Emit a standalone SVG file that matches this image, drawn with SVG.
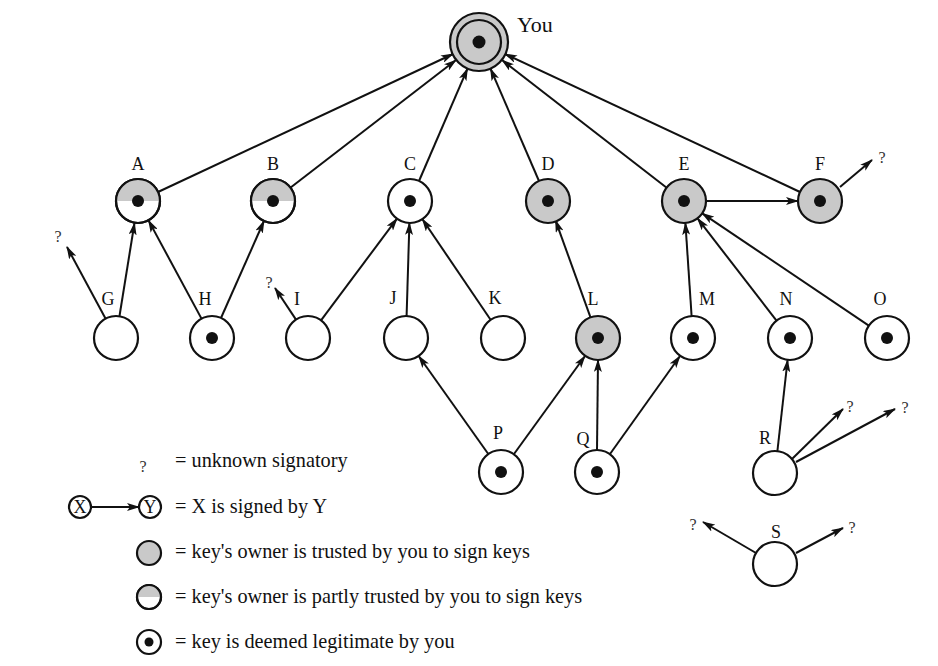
<svg xmlns="http://www.w3.org/2000/svg" width="938" height="666" viewBox="0 0 938 666">
<style>
.n{fill:#fff;stroke:#111;stroke-width:2.2}
.t{fill:#c9c9c9;stroke:#111;stroke-width:2.2}
.d{fill:#111}
.e{stroke:#111;stroke-width:2;fill:none;marker-end:url(#ah)}
.lb{font-family:"Liberation Serif","Times New Roman",serif;font-size:18px;fill:#111;text-anchor:middle}
.q{font-family:"Liberation Serif","Times New Roman",serif;font-size:16px;fill:#333;text-anchor:middle}
.lg{font-family:"Liberation Serif","Times New Roman",serif;font-size:20.3px;fill:#111}
</style>
<defs>
<marker id="ah" viewBox="0 0 13 8" refX="12" refY="4" markerWidth="13" markerHeight="8" markerUnits="userSpaceOnUse" orient="auto">
<path d="M0,0 L13,4 L0,8 L3,4 z" fill="#111"/>
</marker>
<clipPath id="top"><rect x="-30" y="-30" width="60" height="30"/></clipPath>
</defs>
<rect width="938" height="666" fill="#fff"/>
<g id="connectors">
<line class="e" x1="158" y1="192" x2="453" y2="54"/>
<line class="e" x1="290" y1="188" x2="456" y2="60"/>
<line class="e" x1="419" y1="181" x2="467.5" y2="68.6"/>
<line class="e" x1="539" y1="181" x2="490.5" y2="68.6"/>
<line class="e" x1="667" y1="188" x2="502" y2="60"/>
<line class="e" x1="800" y1="192" x2="505" y2="54"/>
<line class="e" x1="706" y1="201" x2="798" y2="201"/>
<line class="e" x1="840" y1="187" x2="872" y2="160"/>
<line class="e" x1="119.5" y1="316" x2="134.5" y2="223"/>
<line class="e" x1="105.5" y1="318.5" x2="67" y2="247"/>
<line class="e" x1="201.5" y1="318.6" x2="148.5" y2="220.4"/>
<line class="e" x1="221" y1="318" x2="264" y2="221"/>
<line class="e" x1="321" y1="320.4" x2="397" y2="218.6"/>
<line class="e" x1="296" y1="319.6" x2="275" y2="288"/>
<line class="e" x1="406.6" y1="316" x2="409.4" y2="223"/>
<line class="e" x1="490.6" y1="319.8" x2="422.4" y2="219.2"/>
<line class="e" x1="590.5" y1="317.3" x2="555.5" y2="220.3"/>
<line class="e" x1="691.6" y1="316" x2="685.4" y2="223"/>
<line class="e" x1="776.5" y1="320.6" x2="697.5" y2="218.4"/>
<line class="e" x1="868.8" y1="325.7" x2="702.2" y2="213.3"/>
<line class="e" x1="488.3" y1="454" x2="418.7" y2="356"/>
<line class="e" x1="514" y1="454" x2="585" y2="356"/>
<line class="e" x1="597" y1="450" x2="598" y2="360"/>
<line class="e" x1="610" y1="454" x2="680" y2="356"/>
<line class="e" x1="777.4" y1="451" x2="787.6" y2="360"/>
<line class="e" x1="792" y1="459" x2="843" y2="409"/>
<line class="e" x1="796" y1="462" x2="895" y2="409"/>
<line class="e" x1="756" y1="553" x2="703" y2="522"/>
<line class="e" x1="796" y1="553" x2="843" y2="528"/>
<line class="e" x1="91" y1="507" x2="139" y2="507"/>
</g>
<g id="node-you">
<circle cx="479" cy="42" r="29" class="t"/>
<circle cx="479" cy="42" r="22" class="t"/>
<circle cx="479" cy="42" r="6.5" class="d"/>
<text x="517" y="32" font-family="Liberation Serif,serif" font-size="22" fill="#111">You</text>
</g>
<g id="node-A">
<circle cx="138" cy="201" r="22" class="n"/>
<circle cx="0" cy="0" r="22" fill="#c9c9c9" clip-path="url(#top)" transform="translate(138,201)"/>
<circle cx="138" cy="201" r="22" fill="none" stroke="#111" stroke-width="2.2"/>
<circle cx="138" cy="201" r="6" class="d"/>
<text x="138" y="170" class="lb">A</text>
</g>
<g id="node-B">
<circle cx="273" cy="201" r="22" class="n"/>
<circle cx="0" cy="0" r="22" fill="#c9c9c9" clip-path="url(#top)" transform="translate(273,201)"/>
<circle cx="273" cy="201" r="22" fill="none" stroke="#111" stroke-width="2.2"/>
<circle cx="273" cy="201" r="6" class="d"/>
<text x="273" y="170" class="lb">B</text>
</g>
<g id="node-C">
<circle cx="410" cy="201" r="22" class="n"/>
<circle cx="410" cy="201" r="6" class="d"/>
<text x="410" y="170" class="lb">C</text>
</g>
<g id="node-D">
<circle cx="548" cy="201" r="22" class="t"/>
<circle cx="548" cy="201" r="6" class="d"/>
<text x="548" y="170" class="lb">D</text>
</g>
<g id="node-E">
<circle cx="684" cy="201" r="22" class="t"/>
<circle cx="684" cy="201" r="6" class="d"/>
<text x="684" y="170" class="lb">E</text>
</g>
<g id="node-F">
<circle cx="820" cy="201" r="22" class="t"/>
<circle cx="820" cy="201" r="6" class="d"/>
<text x="820" y="170" class="lb">F</text>
<text x="882" y="163" class="q">?</text>
</g>
<g id="node-G">
<circle cx="116" cy="338" r="22" class="n"/>
<text x="108" y="305" class="lb">G</text>
<text x="58" y="242" class="q">?</text>
</g>
<g id="node-H">
<circle cx="212" cy="338" r="22" class="n"/>
<circle cx="212" cy="338" r="6" class="d"/>
<text x="205" y="305" class="lb">H</text>
</g>
<g id="node-I">
<circle cx="308" cy="338" r="22" class="n"/>
<text x="297" y="305" class="lb">I</text>
<text x="269" y="288" class="q">?</text>
</g>
<g id="node-J">
<circle cx="406" cy="338" r="22" class="n"/>
<text x="393" y="304" class="lb">J</text>
</g>
<g id="node-K">
<circle cx="503" cy="338" r="22" class="n"/>
<text x="495" y="304" class="lb">K</text>
</g>
<g id="node-L">
<circle cx="598" cy="338" r="22" class="t"/>
<circle cx="598" cy="338" r="6" class="d"/>
<text x="593" y="305" class="lb">L</text>
</g>
<g id="node-M">
<circle cx="693" cy="338" r="22" class="n"/>
<circle cx="693" cy="338" r="6" class="d"/>
<text x="707" y="305" class="lb">M</text>
</g>
<g id="node-N">
<circle cx="790" cy="338" r="22" class="n"/>
<circle cx="790" cy="338" r="6" class="d"/>
<text x="786" y="305" class="lb">N</text>
</g>
<g id="node-O">
<circle cx="887" cy="338" r="22" class="n"/>
<circle cx="887" cy="338" r="6" class="d"/>
<text x="880" y="305" class="lb">O</text>
</g>
<g id="node-P">
<circle cx="501" cy="472" r="22" class="n"/>
<circle cx="501" cy="472" r="6" class="d"/>
<text x="498" y="439" class="lb">P</text>
</g>
<g id="node-Q">
<circle cx="597" cy="472" r="22" class="n"/>
<circle cx="597" cy="472" r="6" class="d"/>
<text x="583" y="445" class="lb">Q</text>
</g>
<g id="node-R">
<circle cx="775" cy="473" r="22" class="n"/>
<text x="765" y="444" class="lb">R</text>
<text x="850" y="412" class="q">?</text>
<text x="905" y="413" class="q">?</text>
</g>
<g id="node-S">
<circle cx="775" cy="564" r="22" class="n"/>
<text x="776" y="538" class="lb">S</text>
<text x="693" y="530" class="q">?</text>
<text x="852" y="533" class="q">?</text>
</g>
<g id="legend">
<text x="143" y="472" class="q">?</text>
<text x="175" y="467" class="lg">= unknown signatory</text>
<circle cx="80" cy="507" r="11" class="n" stroke-width="1.6"/>
<text x="80" y="513" class="lb">X</text>
<circle cx="150" cy="507" r="11" class="n" stroke-width="1.6"/>
<text x="150" y="513" class="lb">Y</text>
<text x="175" y="513" class="lg">= X is signed by Y</text>
<circle cx="149" cy="553" r="12" class="t"/>
<text x="175" y="558" class="lg">= key's owner is trusted by you to sign keys</text>
<circle cx="149" cy="597" r="12" class="n"/>
<path d="M137,597 A12,12 0 0 1 161,597 Z" fill="#c9c9c9"/>
<circle cx="149" cy="597" r="12" fill="none" stroke="#111" stroke-width="2.2"/>
<text x="175" y="603" class="lg">= key's owner is partly trusted by you to sign keys</text>
<circle cx="149" cy="642" r="12" class="n"/>
<circle cx="149" cy="642" r="4.5" class="d"/>
<text x="175" y="648" class="lg">= key is deemed legitimate by you</text>
</g>
</svg>
